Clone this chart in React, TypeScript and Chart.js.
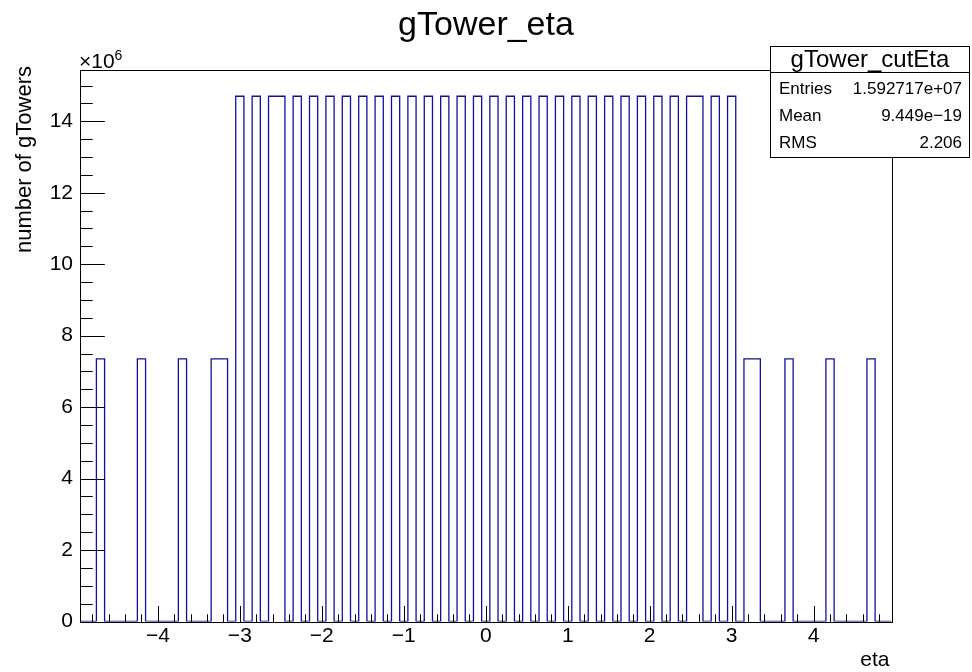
import React, { useEffect, useRef } from "react";
import { Chart, registerables } from "chart.js";

Chart.register(...registerables);

// Histogram binning (eta axis)
const X_MIN = -4.95;
const X_MAX = 4.95;
const BIN_WIDTH = 0.1;
const Y_MAX = 15.435e6;

// Non-empty bins: eta bin centres and their contents
const binEta = [
  -4.7, -4.2, -3.7, -3.3, -3.2,
  -3.0, -2.8, -2.6, -2.5, -2.3, -2.1, -1.9, -1.7, -1.5, -1.3, -1.1, -0.9, -0.7, -0.5, -0.3, -0.1,
  0.1, 0.3, 0.5, 0.7, 0.9, 1.1, 1.3, 1.5, 1.7, 1.9, 2.1, 2.3, 2.5, 2.6, 2.8, 3.0,
  3.2, 3.3, 3.7, 4.2, 4.7,
];
const binCount = [
  7.35e6, 7.35e6, 7.35e6, 7.35e6, 7.35e6,
  14.7e6, 14.7e6, 14.7e6, 14.7e6, 14.7e6, 14.7e6, 14.7e6, 14.7e6, 14.7e6, 14.7e6, 14.7e6, 14.7e6, 14.7e6, 14.7e6, 14.7e6, 14.7e6,
  14.7e6, 14.7e6, 14.7e6, 14.7e6, 14.7e6, 14.7e6, 14.7e6, 14.7e6, 14.7e6, 14.7e6, 14.7e6, 14.7e6, 14.7e6, 14.7e6, 14.7e6, 14.7e6,
  7.35e6, 7.35e6, 7.35e6, 7.35e6, 7.35e6,
];

// Axis ticks
const xTickValues = [-4, -3, -2, -1, 0, 1, 2, 3, 4];
const xTickLabels = ["\u22124", "\u22123", "\u22122", "\u22121", "0", "1", "2", "3", "4"];
const yTickValues = [0, 2e6, 4e6, 6e6, 8e6, 10e6, 12e6, 14e6];
const yTickLabels = ["0", "2", "4", "6", "8", "10", "12", "14"];
const X_MINOR_STEP = 0.2;
const Y_MINOR_STEP = 0.5e6;

// Texts
const TITLE = "gTower_eta";
const X_TITLE = "eta";
const Y_TITLE = "number of gTowers";
const STATS_TITLE = "gTower_cutEta";
const statsLabels = ["Entries", "Mean", "RMS"];
const statsValues = ["1.592717e+07", "9.449e\u221219", "2.206"];

const FONT = "'Liberation Sans', Arial, Helvetica, sans-serif";
const LINE_COLOR = "#10109c";

function buildSteps() {
  const nBins = Math.round((X_MAX - X_MIN) / BIN_WIDTH);
  const vals: number[] = new Array(nBins).fill(0);
  binEta.forEach((eta, i) => {
    const idx = Math.round((eta - X_MIN) / BIN_WIDTH - 0.5);
    if (idx >= 0 && idx < nBins) vals[idx] = binCount[i];
  });
  const pts: { x: number; y: number }[] = [];
  for (let i = 0; i < nBins; i++) pts.push({ x: X_MIN + i * BIN_WIDTH, y: vals[i] });
  pts.push({ x: X_MAX, y: 0 });
  return pts;
}

const rootPlugin = {
  id: "rootStyle",
  beforeDraw(chart: any) {
    const ctx = chart.ctx;
    ctx.save();
    ctx.fillStyle = "#ffffff";
    ctx.fillRect(0, 0, chart.width, chart.height);
    ctx.restore();
  },
  afterDraw(chart: any) {
    const ctx = chart.ctx as CanvasRenderingContext2D;
    const xs = chart.scales.x;
    const ys = chart.scales.y;
    const a = chart.chartArea;
    ctx.save();
    ctx.strokeStyle = "#000000";
    ctx.fillStyle = "#000000";
    ctx.lineWidth = 1;

    // frame
    ctx.strokeRect(Math.round(a.left) + 0.5, Math.round(a.top) + 0.5, Math.round(a.right - a.left), Math.round(a.bottom - a.top));

    const bottom = Math.round(a.bottom) + 0.5;
    const left = Math.round(a.left) + 0.5;
    const xMajorLen = 0.03 * (a.bottom - a.top);
    const yMajorLen = 0.03 * (a.right - a.left);

    // x ticks
    ctx.beginPath();
    const nxm = Math.round((X_MAX - X_MIN) / X_MINOR_STEP) + 2;
    for (let k = -nxm; k <= nxm; k++) {
      const v = k * X_MINOR_STEP;
      if (v <= X_MIN || v >= X_MAX) continue;
      const isMajor = Math.abs(v - Math.round(v)) < 1e-6;
      const px = Math.round(xs.getPixelForValue(v)) + 0.5;
      ctx.moveTo(px, bottom);
      ctx.lineTo(px, bottom - (isMajor ? xMajorLen : xMajorLen / 2));
    }
    // y ticks
    const nym = Math.round(Y_MAX / Y_MINOR_STEP);
    for (let k = 1; k <= nym; k++) {
      const v = k * Y_MINOR_STEP;
      if (v >= Y_MAX) continue;
      const isMajor = Math.abs(v / 2e6 - Math.round(v / 2e6)) < 1e-6;
      const py = Math.round(ys.getPixelForValue(v)) + 0.5;
      ctx.moveTo(left, py);
      ctx.lineTo(left + (isMajor ? yMajorLen : yMajorLen / 2), py);
    }
    ctx.stroke();

    // tick labels
    ctx.font = `21px ${FONT}`;
    ctx.textAlign = "center";
    ctx.textBaseline = "middle";
    xTickValues.forEach((v, i) => {
      ctx.fillText(xTickLabels[i], xs.getPixelForValue(v), a.bottom + 15);
    });
    ctx.textAlign = "right";
    yTickValues.forEach((v, i) => {
      ctx.fillText(yTickLabels[i], a.left - 7, ys.getPixelForValue(v));
    });

    // x10^6
    ctx.textAlign = "left";
    ctx.textBaseline = "alphabetic";
    ctx.font = `21px ${FONT}`;
    ctx.fillText("\u00d710", a.left - 1, a.top - 2);
    const w = ctx.measureText("\u00d710").width;
    ctx.font = `14px ${FONT}`;
    ctx.fillText("6", a.left - 1 + w, a.top - 10);

    // axis titles
    ctx.font = `21px ${FONT}`;
    ctx.textAlign = "right";
    ctx.textBaseline = "middle";
    ctx.fillText(X_TITLE, a.right - 2, 660);
    ctx.save();
    ctx.font = `22px ${FONT}`;
    ctx.translate(25, a.top - 4);
    ctx.rotate(-Math.PI / 2);
    ctx.textAlign = "right";
    ctx.fillText(Y_TITLE, 0, 0);
    ctx.restore();

    // title
    ctx.font = `34px ${FONT}`;
    ctx.textAlign = "center";
    ctx.textBaseline = "middle";
    ctx.fillText(TITLE, 486, 26);

    // stats box
    const bx = 770.5, by = 46.5, bw = 199, bh = 111;
    ctx.fillStyle = "#ffffff";
    ctx.fillRect(bx, by, bw, bh);
    ctx.strokeRect(bx, by, bw, bh);
    ctx.beginPath();
    ctx.moveTo(bx, 72.5);
    ctx.lineTo(bx + bw, 72.5);
    ctx.stroke();
    ctx.fillStyle = "#000000";
    ctx.font = `24px ${FONT}`;
    ctx.textAlign = "center";
    ctx.fillText(STATS_TITLE, bx + bw / 2, 60);
    ctx.font = `17px ${FONT}`;
    statsLabels.forEach((lab, i) => {
      const y = 89.5 + i * 27;
      ctx.textAlign = "left";
      ctx.fillText(lab, 779, y);
      ctx.textAlign = "right";
      ctx.fillText(statsValues[i], 962, y);
    });
    ctx.restore();
  },
};

export default function App() {
  const ref = useRef<HTMLCanvasElement | null>(null);
  useEffect(() => {
    if (!ref.current) return;
    const chart = new Chart(ref.current, {
      type: "line",
      data: {
        datasets: [
          {
            label: TITLE,
            data: buildSteps(),
            stepped: "before",
            borderColor: LINE_COLOR,
            borderWidth: 1.3,
            pointRadius: 0,
            fill: false,
            tension: 0,
          },
        ],
      },
      options: {
        animation: false,
        responsive: false,
        devicePixelRatio: 1,
        parsing: false,
        layout: { padding: { left: 80, right: 80.5, top: 70, bottom: 50.5 } },
        plugins: { legend: { display: false }, tooltip: { enabled: false }, title: { display: false } },
        scales: {
          x: { type: "linear", min: X_MIN, max: X_MAX, display: false },
          y: { type: "linear", min: 0, max: Y_MAX, display: false },
        },
      },
      plugins: [rootPlugin],
    } as any);
    return () => chart.destroy();
  }, []);
  return (
    <div style={{ position: "absolute", left: 0, top: 0, width: 972, height: 672, background: "#fff" }}>
      <canvas ref={ref} width={972} height={672} style={{ width: 972, height: 672, display: "block" }} />
    </div>
  );
}
